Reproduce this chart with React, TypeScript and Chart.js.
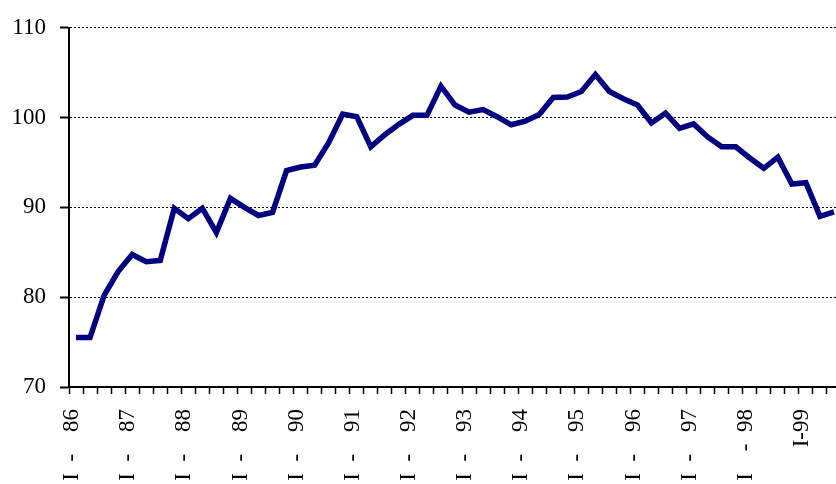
import React, { useEffect, useRef } from "react";
import { Chart, registerables } from "chart.js";

Chart.register(...registerables);

// Quarterly index, I-1986 .. III-1999
const values: number[] = [
  75.5, 75.5, 80.2, 82.85, 84.75, 83.95, 84.1, 89.9, 88.75, 89.9,
  87.2, 91.0, 90.0, 89.1, 89.45, 94.1, 94.5, 94.7, 97.2, 100.4,
  100.1, 96.75, 98.1, 99.25, 100.25, 100.25, 103.5, 101.4, 100.6, 100.9,
  100.1, 99.2, 99.6, 100.35, 102.25, 102.3, 102.9, 104.8, 102.9, 102.1,
  101.4, 99.4, 100.5, 98.8, 99.3, 97.85, 96.75, 96.75, 95.5, 94.35,
  95.6, 92.6, 92.75, 89.0, 89.5,
];

const years: string[] = ["86", "87", "88", "89", "90", "91", "92", "93", "94", "95", "96", "97", "98", "99"];
const quarters: string[] = ["I", "II", "III", "IV"];

// Text shown under the first quarter of each year
const S = "   \u2009";
const yearTickLabels: string[] = [
  "I  -" + S + "86", "I  -" + S + "87", "I  -" + S + "88", "I  -" + S + "89",
  "I  -" + S + "90", "I  -" + S + "91", "I  -" + S + "92", "I  -" + S + "93",
  "I  -" + S + "94", "I  -" + S + "95", "I  -" + S + "96", "I  -" + S + "97",
  "I" + S + "-  98", "I-99",
];

const yTicks: number[] = [70, 80, 90, 100, 110];

const categories: string[] = [];
years.forEach((y) => quarters.forEach((q) => categories.push(q + "-" + y)));
const labels = categories.slice(0, values.length);

const FONT = "'Liberation Serif', 'Times New Roman', serif";

export default function App() {
  const ref = useRef<HTMLCanvasElement | null>(null);

  useEffect(() => {
    if (!ref.current) return;
    const chart = new Chart(ref.current, {
      type: "line",
      data: {
        labels,
        datasets: [
          {
            data: values,
            borderColor: "#000080",
            borderWidth: 5.5,
            pointRadius: 0,
            tension: 0,
            fill: false,
          },
        ],
      },
      options: {
        responsive: false,
        animation: false,
        devicePixelRatio: 1,
        layout: { padding: { left: 10, top: 8, right: 0, bottom: 0 } },
        plugins: { legend: { display: false }, tooltip: { enabled: false } },
        scales: {
          x: {
            type: "category",
            offset: true,
            afterFit: (axis: any) => {
              axis.height = 97;
              axis.paddingLeft = 0;
              axis.paddingRight = 0;
            },
            grid: {
              offset: true,
              drawOnChartArea: false,
              drawTicks: true,
              tickLength: 7,
              tickColor: "#000",
              tickWidth: 1.5,
              color: "#000",
            },
            border: { display: true, color: "#000", width: 2 },
            ticks: {
              autoSkip: false,
              maxRotation: 90,
              minRotation: 90,
              padding: 15,
              labelOffset: -4,
              color: "#000",
              font: { family: FONT, size: 23 },
              callback: (_v: any, i: number) => (i % 4 === 0 ? yearTickLabels[i / 4] : ""),
            },
          },
          y: {
            min: 70,
            max: 110,
            afterFit: (axis: any) => {
              axis.width = 59;
            },
            afterBuildTicks: (axis: any) => {
              axis.ticks = yTicks.map((v) => ({ value: v }));
            },
            grid: {
              color: "#000",
              lineWidth: 1,
              drawTicks: true,
              tickLength: 9,
              tickColor: "#000",
              tickWidth: 2,
              tickBorderDash: [],
            },
            border: { display: true, color: "#000", width: 2, dash: [2, 2] },
            ticks: {
              padding: 14,
              color: "#000",
              font: { family: FONT, size: 23 },
            },
          },
        },
      },
    });
    return () => chart.destroy();
  }, []);

  return (
    <div
      style={{
        position: "fixed",
        left: 0,
        top: 0,
        width: 836,
        height: 484,
        overflow: "hidden",
        background: "#fff",
      }}
    >
      <canvas ref={ref} width={841} height={484} style={{ display: "block" }} />
    </div>
  );
}
